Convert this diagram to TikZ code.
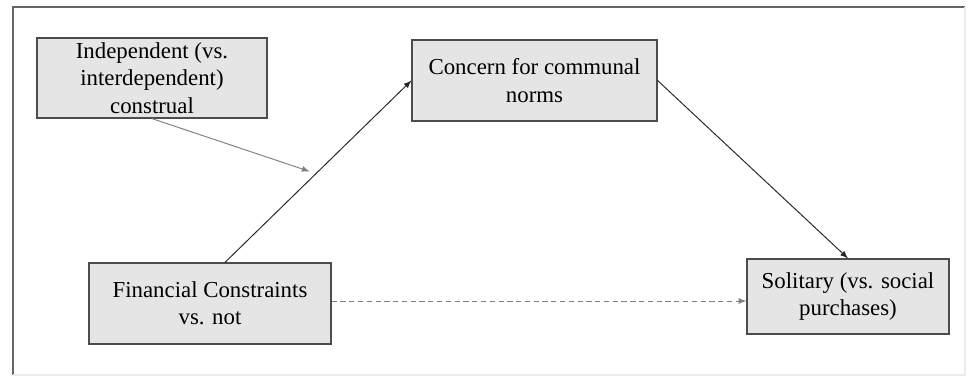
\documentclass[tikz,border=0pt]{standalone}
\usepackage{fontspec}
\setmainfont{Liberation Serif}
\usepackage{tikz}

\begin{document}
\begin{tikzpicture}[x=0.02cm, y=-0.02cm]
  \tikzset{var/.style={draw=black!70, fill=black!10, line width=0.7pt, align=center, inner sep=2pt,
      font=\fontsize{13}{15.5}\selectfont},
    link/.style={-latex, line width=0.55pt}}
  \useasboundingbox (0,0) rectangle (968,376);
  \draw[black!60, line width=0.8pt] (13,375) -- (13,7) -- (965,7);
  \draw[black!8, line width=0.8pt] (965,7) -- (965,375) -- (13,375);
  \node[var, minimum width=4.6cm,  minimum height=1.6cm]  (ind) at (152, 78)    {Independent (vs.\\interdependent)\\construal};
  \node[var, minimum width=4.9cm,  minimum height=1.62cm] (con) at (534.5, 80.5) {Concern for communal\\norms};
  \node[var, minimum width=4.84cm, minimum height=1.62cm] (fin) at (210, 303.5)  {Financial Constraints\\vs. not};
  \node[var, minimum width=4.04cm, minimum height=1.5cm]  (sol) at (848, 296.5)  {Solitary (vs. social\\purchases)};
  \draw[link, black!85] ([xshift=0.3cm]fin.north) -- (con.west) coordinate[pos=0.5] (mod);
  \draw[link, black!85] (con.east) -- (sol.north);
  \draw[link, black!50] (ind.south) -- ([xshift=-0.17cm]mod);
  \draw[link, black!50, densely dashed] (fin.east |- 0,301) -- (sol.west |- 0,301);
\end{tikzpicture}
\end{document}
